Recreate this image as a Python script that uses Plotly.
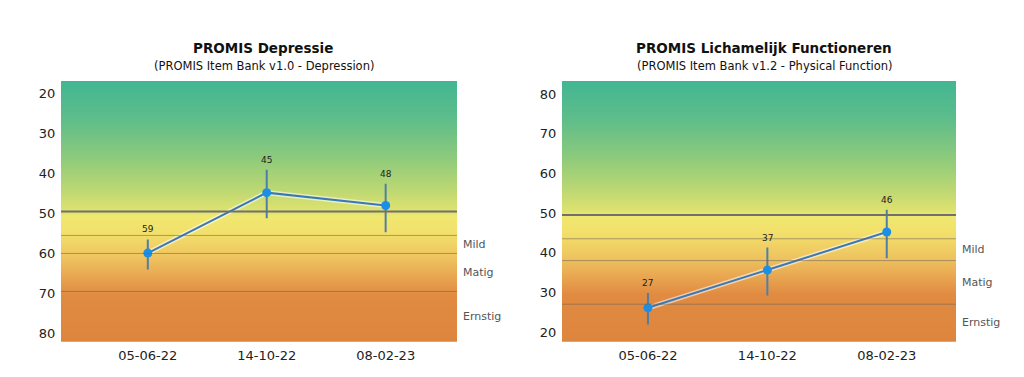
import numpy as np
import plotly.graph_objects as go

# ---------------- data ----------------
dates = ["05-06-22", "14-10-22", "08-02-23"]

dep_title = "PROMIS Depressie"
dep_subtitle = "(PROMIS Item Bank v1.0 - Depression)"
dep_scores = [59.9, 44.8, 48.0]
dep_labels = ["59", "45", "48"]
dep_err_low = [56.5, 39.1, 42.6]
dep_err_high = [64.0, 51.2, 54.7]
dep_ticks = [20, 30, 40, 50, 60, 70, 80]
dep_norm = 49.5
dep_cutoffs = [55.5, 60.0, 69.5]
dep_bands = ["Mild", "Matig", "Ernstig"]

pf_title = "PROMIS Lichamelijk Functioneren"
pf_subtitle = "(PROMIS Item Bank v1.2 - Physical Function)"
pf_scores = [26.1, 35.6, 45.2]
pf_labels = ["27", "37", "46"]
pf_err_low = [21.9, 29.2, 38.6]
pf_err_high = [29.8, 41.3, 50.8]
pf_ticks = [20, 30, 40, 50, 60, 70, 80]
pf_norm = 49.5
pf_cutoffs = [43.5, 38.0, 27.0]
pf_bands = ["Mild", "Matig", "Ernstig"]

# ---------------- style ----------------
FONT = "DejaVu Sans"
OFF = 8  # page body margin
W, H = 1024 - 2 * OFF, 377 - 2 * OFF
grad_scale = [
    [0.00, "#42b693"], [0.15, "#5fbd8a"], [0.30, "#8fcb7b"], [0.42, "#bdd873"],
    [0.50, "#e0e26f"], [0.52, "#f0e870"], [0.58, "#f2e06b"], [0.67, "#efc660"],
    [0.76, "#e8a24f"], [0.82, "#e08b41"], [1.00, "#de853d"],
]
LINE_C = "#3b79b6"
MARK_C = "#1b8fe6"
ERR_C = "#4f7fa6"


def px(x):
    return (x - OFF) / W


def py(y):
    return 1 - (y - OFF) / H


fig = go.Figure()

panels = [
    dict(ax="", title=dep_title, sub=dep_subtitle, scores=dep_scores, labels=dep_labels,
         lo=dep_err_low, hi=dep_err_high, ticks=dep_ticks, norm=dep_norm,
         cut=dep_cutoffs, bands=dep_bands, yrange=[82.05, 16.9],
         xrange=[-0.73, 2.6], xdom=[px(61), px(457)], tx=263),
    dict(ax="2", title=pf_title, sub=pf_subtitle, scores=pf_scores, labels=pf_labels,
         lo=pf_err_low, hi=pf_err_high, ticks=pf_ticks, norm=pf_norm,
         cut=pf_cutoffs, bands=pf_bands, yrange=[17.55, 83.28],
         xrange=[-0.72, 2.58], xdom=[px(562), px(956)], tx=764),
]
ydom = [py(341.7), py(81)]

for p in panels:
    xa, ya = "x" + p["ax"], "y" + p["ax"]
    xpos = list(range(len(dates)))
    # gradient background
    y0, y1 = p["yrange"]
    lo_v, hi_v = min(y0, y1), max(y0, y1)
    ygrid = np.arange(lo_v - 0.5, hi_v + 0.5, 0.1)
    top = y1
    frac = np.clip((ygrid - top) / (y0 - top), 0, 1)
    z = np.column_stack([frac, frac])
    fig.add_trace(go.Heatmap(x=[-1, 3], y=ygrid, z=z, colorscale=grad_scale, zmin=0, zmax=1,
                             showscale=False, hoverinfo="skip", xaxis=xa, yaxis=ya))
    # reference lines
    fig.add_shape(type="line", xref=xa + " domain", yref=ya, x0=0, x1=1, y0=p["norm"], y1=p["norm"],
                  line=dict(color="#707070", width=2), layer="above")
    for c in p["cut"]:
        fig.add_shape(type="line", xref=xa + " domain", yref=ya, x0=0, x1=1, y0=c, y1=c,
                      line=dict(color="rgba(110,100,90,0.55)", width=1), layer="above")
    # band labels
    edges = p["cut"] + [p["yrange"][0]]
    for i, b in enumerate(p["bands"]):
        mid = (edges[i] + edges[i + 1]) / 2
        fig.add_annotation(text=b, xref=xa + " domain", yref=ya, x=1, y=mid, xanchor="left",
                           xshift=4, showarrow=False, font=dict(family=FONT, size=11, color="#555"))
    # glow
    fig.add_trace(go.Scatter(x=xpos, y=p["scores"], mode="lines", line=dict(color="rgba(255,255,255,0.55)", width=5),
                             hoverinfo="skip", xaxis=xa, yaxis=ya, showlegend=False))
    # line + error bars
    fig.add_trace(go.Scatter(
        x=xpos, y=p["scores"], mode="lines+markers",
        line=dict(color=LINE_C, width=2),
        marker=dict(color=MARK_C, size=9),
        error_y=dict(type="data", symmetric=False,
                     array=[h - s for h, s in zip(p["hi"], p["scores"])],
                     arrayminus=[s - l for l, s in zip(p["lo"], p["scores"])],
                     color=ERR_C, thickness=2, width=0),
        xaxis=xa, yaxis=ya, showlegend=False))
    # value labels above error bars
    reversed_axis = p["yrange"][0] > p["yrange"][1]
    for xi, lab, lo, hi in zip(xpos, p["labels"], p["lo"], p["hi"]):
        fig.add_annotation(text=lab, x=xi, y=(lo if reversed_axis else hi), xref=xa, yref=ya,
                           yanchor="bottom", yshift=3, showarrow=False,
                           font=dict(family=FONT, size=9, color="#222"))
    # titles
    fig.add_annotation(text="<b>" + p["title"] + "</b>", xref="paper", yref="paper", x=px(p["tx"]),
                       y=py(48), xanchor="center", yanchor="middle", showarrow=False,
                       font=dict(family=FONT, size=13.5, color="#111"))
    fig.add_annotation(text=p["sub"], xref="paper", yref="paper", x=px(p["tx"] + 1),
                       y=py(66), xanchor="center", yanchor="middle", showarrow=False,
                       font=dict(family=FONT, size=11.5, color="#111"))
    # axes
    fig.update_layout(**{
        "xaxis" + p["ax"]: dict(domain=p["xdom"], range=p["xrange"], tickvals=xpos, ticktext=dates,
                                showgrid=False, zeroline=False, showline=False, automargin=False,
                                ticks="outside", ticklen=2, tickcolor="rgba(0,0,0,0)",
                                tickfont=dict(family=FONT, size=13, color="#222"),
                                anchor=ya),
        "yaxis" + p["ax"]: dict(domain=ydom, range=p["yrange"], tickvals=p["ticks"],
                                showgrid=False, zeroline=False, showline=False, automargin=False,
                                ticks="outside", ticklen=2, tickcolor="rgba(0,0,0,0)",
                                tickfont=dict(family=FONT, size=13, color="#222"),
                                anchor=xa),
    })

fig.update_layout(width=W, height=H, margin=dict(l=0, r=0, t=0, b=0),
                  paper_bgcolor="white", plot_bgcolor="white", showlegend=False)
fig.write_html("out.html")
